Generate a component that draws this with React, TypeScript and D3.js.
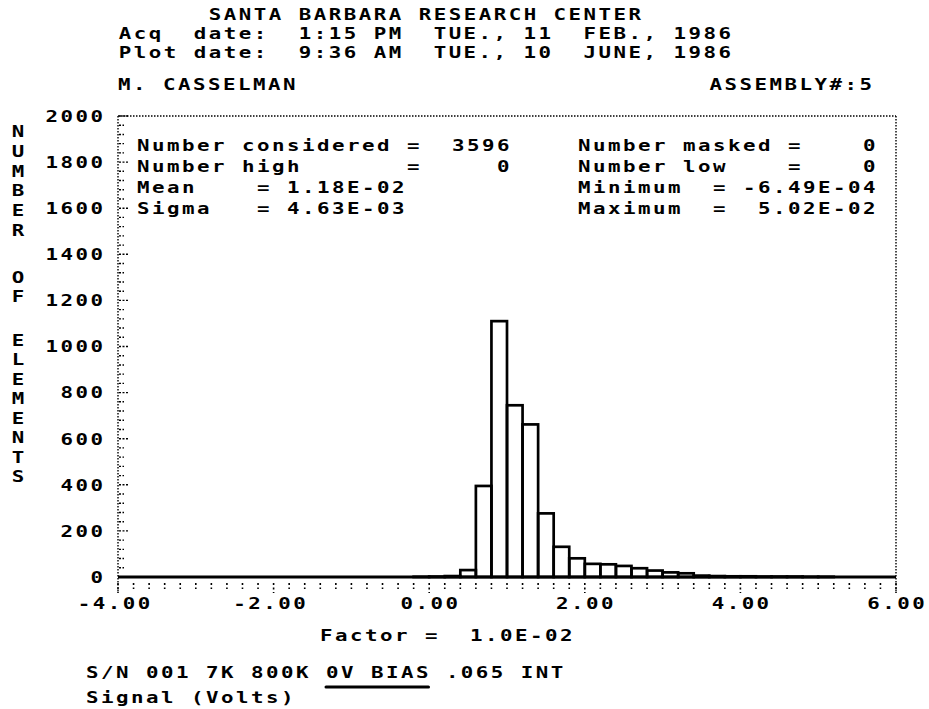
import React from 'react';
import * as d3 from 'd3';

// ---- data ----
const binWidth = 0.2;
const binStarts = [-0.2, 0.0, 0.2, 0.4, 0.6, 0.8, 1.0, 1.2, 1.4, 1.6, 1.8, 2.0, 2.2, 2.4, 2.6, 2.8, 3.0, 3.2, 3.4, 3.6, 3.8, 4.0, 4.2, 4.4, 4.6, 4.8, 5.0];
const counts = [1, 2, 4, 30, 395, 1110, 745, 662, 276, 131, 81, 57, 55, 48, 38, 28, 20, 16, 6, 4, 3, 3, 2, 2, 2, 1, 1];
const xTickValues = [-4, -2, 0, 2, 4, 6];
const xTickLabels = ['-4.00', '-2.00', '0.00', '2.00', '4.00', '6.00'];
const yTickValues = [0, 200, 400, 600, 800, 1000, 1200, 1400, 1600, 1800, 2000];
const yTickLabels = ['0', '200', '400', '600', '800', '1000', '1200', '1400', '1600', '1800', '2000'];
const titleLines = [
  'SANTA BARBARA RESEARCH CENTER',
  'Acq  date:  1:15 PM  TUE., 11  FEB., 1986',
  'Plot date:  9:36 AM  TUE., 10  JUNE, 1986',
];
const statsLeft = ['Number considered =  3596', 'Number high       =     0', 'Mean    = 1.18E-02', 'Sigma   = 4.63E-03'];
const statsRight = ['Number masked =    0', 'Number low    =    0', 'Minimum  = -6.49E-04', 'Maximum  =  5.02E-02'];
const yTitle = ['N', 'U', 'M', 'B', 'E', 'R', 'O', 'F', 'E', 'L', 'E', 'M', 'E', 'N', 'T', 'S'];

const W = 929;
const H = 709;
const FONT = '"DejaVu Sans Mono", monospace';
const FS = 16;
const PITCH = 15;
const KX = 1.3; // horizontal glyph stretch (plotter font is wide)
const LS = PITCH / KX - FS * 0.602; // letter spacing in unscaled units
const CAP = FS * 0.729;

type Anchor = 'start' | 'middle' | 'end';
function MText({ x, y, text, anchor = 'start' }: { x: number; y: number; text: string; anchor?: Anchor }) {
  const w = text.length * PITCH - LS * KX;
  const sx = anchor === 'start' ? x : anchor === 'end' ? x - w : x - w / 2;
  return (
    <g transform={`translate(${sx},${y + CAP / 2}) scale(${KX},1)`}>
      <text
        x={0}
        y={0}
        fontFamily={FONT}
        fontSize={FS}
        fontWeight="bold"
        letterSpacing={LS}
        fill="#000"
        style={{ whiteSpace: 'pre' }}
      >
        {text}
      </text>
    </g>
  );
}

export default function App() {
  const x = d3.scaleLinear().domain([-4, 6]).range([118, 896]);
  const y = d3.scaleLinear().domain([0, 2000]).range([577, 116]);
  const [x0, x1] = x.range();
  const yTop = y(2000);
  const yBase = y(0);

  const minorX = d3.range(-4, 6.0001, 0.2);
  const minorY = d3.range(0, 2000.0001, 40);

  const yTitleRows = [131, 151, 171, 190, 210, 230, 277, 296, 340, 359, 379, 398, 418, 437, 457, 476];
  const statRows = [145, 166, 187, 208];

  return (
    <svg width={W} height={H} style={{ position: 'absolute', left: 0, top: 0, background: '#fff' }}>
      <rect x={0} y={0} width={W} height={H} fill="#fff" />
      {/* header */}
      {titleLines.map((t, i) => (
        <MText key={'t' + i} x={425} y={[14, 33, 52][i]} text={t} anchor="middle" />
      ))}
      <MText x={118} y={84} text="M. CASSELMAN" />
      <MText x={872} y={84} text="ASSEMBLY#:5" anchor="end" />

      {/* frame (dotted) */}
      <line x1={x0} x2={x1} y1={yTop} y2={yTop} stroke="#000" strokeWidth={1.4} strokeDasharray="1.5,1.5" />
      <line x1={x0} x2={x0} y1={yTop} y2={yBase + 15} stroke="#000" strokeWidth={1.4} strokeDasharray="1.5,1.5" />
      <line x1={x1} x2={x1} y1={yTop} y2={yBase + 15} stroke="#000" strokeWidth={1.4} strokeDasharray="1.5,1.5" />

      {/* y ticks */}
      {minorY.map((v) => {
        const major = Math.abs(v % 200) < 1e-6;
        return (
          <line
            key={'yt' + v}
            x1={x0 + 1}
            x2={x0 + (major ? 11 : 6)}
            y1={y(v)}
            y2={y(v)}
            stroke="#000"
            strokeWidth={1.4}
            strokeDasharray="2,1.5"
          />
        );
      })}
      {yTickValues.map((v, i) => (
        <MText key={'yl' + v} x={103} y={y(v)} text={yTickLabels[i]} anchor="end" />
      ))}

      {/* x ticks */}
      {minorX.map((v, i) => {
        const major = i % 10 === 0;
        return (
          <line
            key={'xt' + i}
            x1={x(v)}
            x2={x(v)}
            y1={yBase + 6}
            y2={yBase + (major ? 16 : 12)}
            stroke="#000"
            strokeWidth={1.6}
            strokeDasharray="2,2.5"
          />
        );
      })}
      {xTickValues.map((v, i) => (
        <MText key={'xl' + v} x={x(v) - (v < 0 ? 4 : 0)} y={603} text={xTickLabels[i]} anchor="middle" />
      ))}

      {/* histogram */}
      <line x1={x0} x2={x1} y1={yBase} y2={yBase} stroke="#000" strokeWidth={3} />
      {binStarts.map((b, i) => (
        <rect
          key={'bar' + i}
          x={x(b)}
          y={y(counts[i])}
          width={x(b + binWidth) - x(b)}
          height={yBase - y(counts[i])}
          fill="none"
          stroke="#000"
          strokeWidth={2.7}
        />
      ))}

      {/* stats */}
      {statsLeft.map((t, i) => (
        <MText key={'sl' + i} x={137} y={statRows[i]} text={t} />
      ))}
      {statsRight.map((t, i) => (
        <MText key={'sr' + i} x={578} y={statRows[i]} text={t} />
      ))}

      {/* y title */}
      {yTitle.map((c, i) => (
        <MText key={'ytl' + i} x={18} y={yTitleRows[i]} text={c} anchor="middle" />
      ))}

      {/* footer */}
      <MText x={320} y={635} text="Factor =  1.0E-02" />
      <MText x={86} y={672} text="S/N 001 7K 800K 0V BIAS .065 INT" />
      <line x1={86 + 16 * PITCH} x2={86 + 23 * PITCH - LS * KX} y1={687} y2={687} stroke="#000" strokeWidth={3} strokeLinecap="round" />
      <MText x={86} y={697} text="Signal (Volts)" />
    </svg>
  );
}
